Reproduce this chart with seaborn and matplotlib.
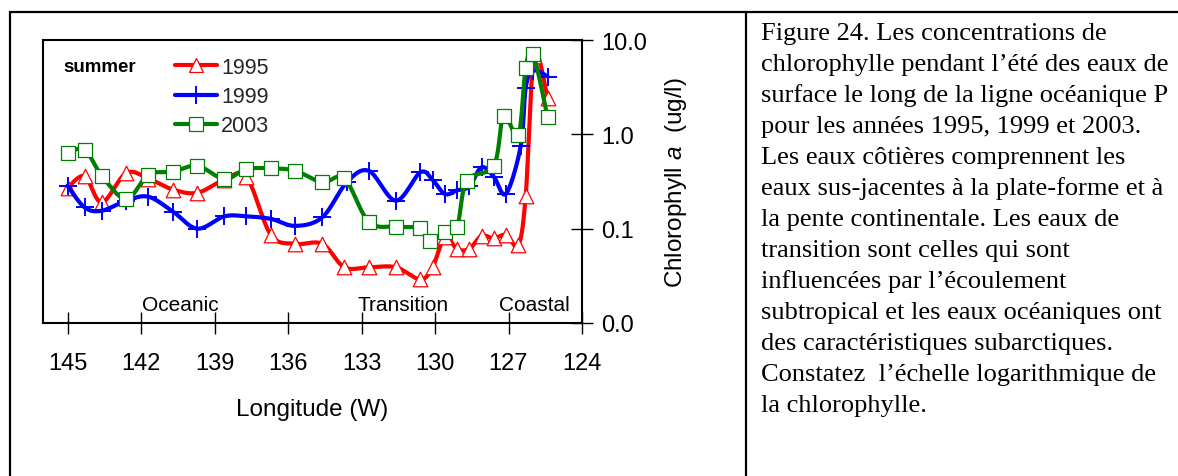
import numpy as np
import matplotlib
matplotlib.use("Agg")
import matplotlib.pyplot as plt
from matplotlib.lines import Line2D
import seaborn as sns

# ---------------- data ----------------
lon_1995 = [145.0, 144.3, 143.6, 142.6, 141.7, 140.7, 139.7, 138.6, 137.7, 136.7, 135.7, 134.6,
            133.7, 132.7, 131.6, 130.6, 130.1, 129.6, 129.1, 128.6, 128.1, 127.6, 127.1, 126.6,
            126.3, 125.95, 125.4]
chl_1995 = [0.27, 0.36, 0.19, 0.39, 0.34, 0.26, 0.24, 0.33, 0.355, 0.086, 0.069, 0.069,
            0.039, 0.039, 0.039, 0.029, 0.039, 0.081, 0.061, 0.061, 0.084, 0.079, 0.086, 0.067,
            0.22, 6.8, 2.4]

lon_1999 = [145.0, 144.3, 143.6, 142.6, 141.7, 140.7, 139.7, 138.6, 137.7, 136.7, 135.7, 134.6,
            133.6, 132.7, 131.6, 130.6, 130.1, 129.6, 129.1, 128.6, 128.1, 127.6, 127.1, 126.5,
            126.3, 126.0, 125.4]
chl_1999 = [0.285, 0.168, 0.155, 0.198, 0.218, 0.152, 0.10, 0.135, 0.135, 0.127, 0.107, 0.132,
            0.31, 0.41, 0.198, 0.395, 0.33, 0.233, 0.255, 0.28, 0.447, 0.355, 0.235, 0.756,
            3.1, 4.73, 4.1]

lon_2003 = [145.0, 144.3, 143.6, 142.6, 141.7, 140.7, 139.7, 138.6, 137.7, 136.7, 135.7, 134.6,
            133.7, 132.7, 131.6, 130.6, 130.2, 129.6, 129.1, 128.7, 127.6, 127.2, 126.6,
            126.3, 126.0, 125.4]
chl_2003 = [0.634, 0.687, 0.364, 0.206, 0.373, 0.401, 0.464, 0.336, 0.428, 0.436, 0.411, 0.31,
            0.341, 0.118, 0.105, 0.101, 0.0745, 0.0927, 0.105, 0.322, 0.464, 1.57, 0.98,
            5.0, 7.1, 1.51]

years = ["1995", "1999", "2003"]
x_ticks = [145, 142, 139, 136, 133, 130, 127, 124]
y_ticks = [0.01, 0.1, 1.0, 10.0]
y_tick_labels = ["0.0", "0.1", "1.0", "10.0"]
regions = ["Oceanic", "Transition", "Coastal"]
region_lon = [140.4, 131.3, 125.95]

caption = [
    "Figure 24. Les concentrations de",
    "chlorophylle pendant l\u2019été des eaux de",
    "surface le long de la ligne océanique P",
    "pour les années 1995, 1999 et 2003.",
    "Les eaux côtières comprennent les",
    "eaux sus-jacentes à la plate-forme et à",
    "la pente continentale. Les eaux de",
    "transition sont celles qui sont",
    "influencées par l\u2019écoulement",
    "subtropical et les eaux océaniques ont",
    "des caractéristiques subarctiques.",
    "Constatez  l\u2019échelle logarithmique de",
    "la chlorophylle.",
]

# ---------------- style ----------------
sns.set_style("ticks")
plt.rcParams["font.family"] = ["Liberation Sans", "DejaVu Sans"]
plt.rcParams["mathtext.fontset"] = "custom"
plt.rcParams["mathtext.rm"] = "Liberation Sans"
plt.rcParams["mathtext.it"] = "Liberation Sans:italic"

colors = ["#ff0000", "#0000ff", "#008000"]


def smooth(xs, ys, n=24):
    """Excel-style smoothed line (Bezier through the points) in x / log10(y) space."""
    x = np.asarray(xs, float)
    y = np.log10(np.asarray(ys, float))
    P = np.column_stack([x, y])
    Pp = np.vstack([P[0], P, P[-1]])
    out = []
    t = np.linspace(0, 1, n)[:, None]
    for i in range(len(P) - 1):
        p0, p1, p2, p3 = Pp[i], Pp[i + 1], Pp[i + 2], Pp[i + 3]
        c1 = p1 + (p2 - p0) / 6.0
        c2 = p2 - (p3 - p1) / 6.0
        seg = ((1 - t) ** 3) * p1 + 3 * ((1 - t) ** 2) * t * c1 + 3 * (1 - t) * t ** 2 * c2 + t ** 3 * p2
        out.append(seg if i == 0 else seg[1:])
    S = np.vstack(out)
    return S[:, 0], 10 ** S[:, 1]


fig = plt.figure(figsize=(11.78, 4.77), dpi=100)
ax = fig.add_axes([43 / 1178, 1 - 324 / 477, (582 - 43) / 1178, (324 - 41) / 477])

series = [(lon_1995, chl_1995), (lon_1999, chl_1999), (lon_2003, chl_2003)]
marker_kw = [
    dict(marker="^", s=110, facecolor="white", linewidth=0.9),
    dict(marker="+", s=170, linewidth=1.4),
    dict(marker="s", s=90, facecolor="white", linewidth=0.9),
]

for i, ((lx, cy), c) in enumerate(zip(series, colors)):
    sx, sy = smooth(lx, cy)
    sns.lineplot(x=sx, y=sy, sort=False, estimator=None, color=c, lw=3.0, ax=ax,
                 zorder=2 + 2 * i)
    kw = dict(marker_kw[i])
    if kw["marker"] == "+":
        sns.scatterplot(x=lx, y=cy, color=c, ax=ax, zorder=3 + 2 * i, **kw)
    else:
        sns.scatterplot(x=lx, y=cy, edgecolor=c, ax=ax, zorder=3 + 2 * i, **kw)

ax.set_yscale("log")
ax.set_xlim(146, 124)
ax.set_ylim(0.01, 10)
ax.set_xticks(x_ticks)
ax.set_xticklabels([str(v) for v in x_ticks])
ax.yaxis.tick_right()
ax.yaxis.set_label_position("right")
ax.set_yticks(y_ticks)
ax.set_yticklabels(y_tick_labels)
ax.yaxis.set_minor_locator(matplotlib.ticker.NullLocator())
ax.tick_params(axis="both", direction="inout", length=16, width=1.0, color="black",
               labelsize=17, labelcolor="black")
ax.tick_params(axis="x", pad=13)
ax.tick_params(axis="y", pad=6)
for sp in ax.spines.values():
    sp.set_visible(True)
    sp.set_color("black")
    sp.set_linewidth(1.5)

ax.set_xlabel("Longitude (W)", fontsize=17.5, color="black")
ax.xaxis.set_label_coords(0.5, -0.265)
ax.set_ylabel("Chlorophyll $\\it{a}$  (ug/l)", fontsize=17.5, color="black")
ax.yaxis.set_label_coords(1.15, 0.5)

for name, lo in zip(regions, region_lon):
    ax.text(lo, 0.0158, name, ha="center", va="center", fontsize=15, color="black")

ax.text(0.037, 0.906, "summer", transform=ax.transAxes, fontsize=13.5, fontweight="bold",
        ha="left", va="center", color="black")

handles = [
    Line2D([0], [0], color=colors[0], lw=3, marker="^", ms=10.5, mfc="white", mec=colors[0], mew=0.9),
    Line2D([0], [0], color=colors[1], lw=3, marker="+", ms=13, mec=colors[1], mew=1.4),
    Line2D([0], [0], color=colors[2], lw=3, marker="s", ms=9.5, mfc="white", mec=colors[2], mew=0.9),
]
ax.legend(handles, years, loc="upper left", bbox_to_anchor=(0.245, 0.94), frameon=False,
          fontsize=15.5, handlelength=1.95, handletextpad=0.18, labelspacing=0.38, borderpad=0,
          borderaxespad=0)

# page frame (table borders)
lw_b = 1.6
fig.add_artist(Line2D([10 / 1178, 1.0], [1 - 13 / 477, 1 - 13 / 477], color="black", lw=lw_b))
fig.add_artist(Line2D([10 / 1178, 10 / 1178], [0, 1 - 13 / 477], color="black", lw=lw_b))
fig.add_artist(Line2D([746 / 1178, 746 / 1178], [0, 1 - 13 / 477], color="black", lw=lw_b))

# caption text
for k, line in enumerate(caption):
    yb = 40 + 31 * k
    fig.text(761 / 1178, 1 - yb / 477, line, ha="left", va="baseline", fontsize=19,
             family=["Liberation Serif", "DejaVu Serif"], color="black")

fig.savefig("out.png", dpi=100, facecolor="white")
